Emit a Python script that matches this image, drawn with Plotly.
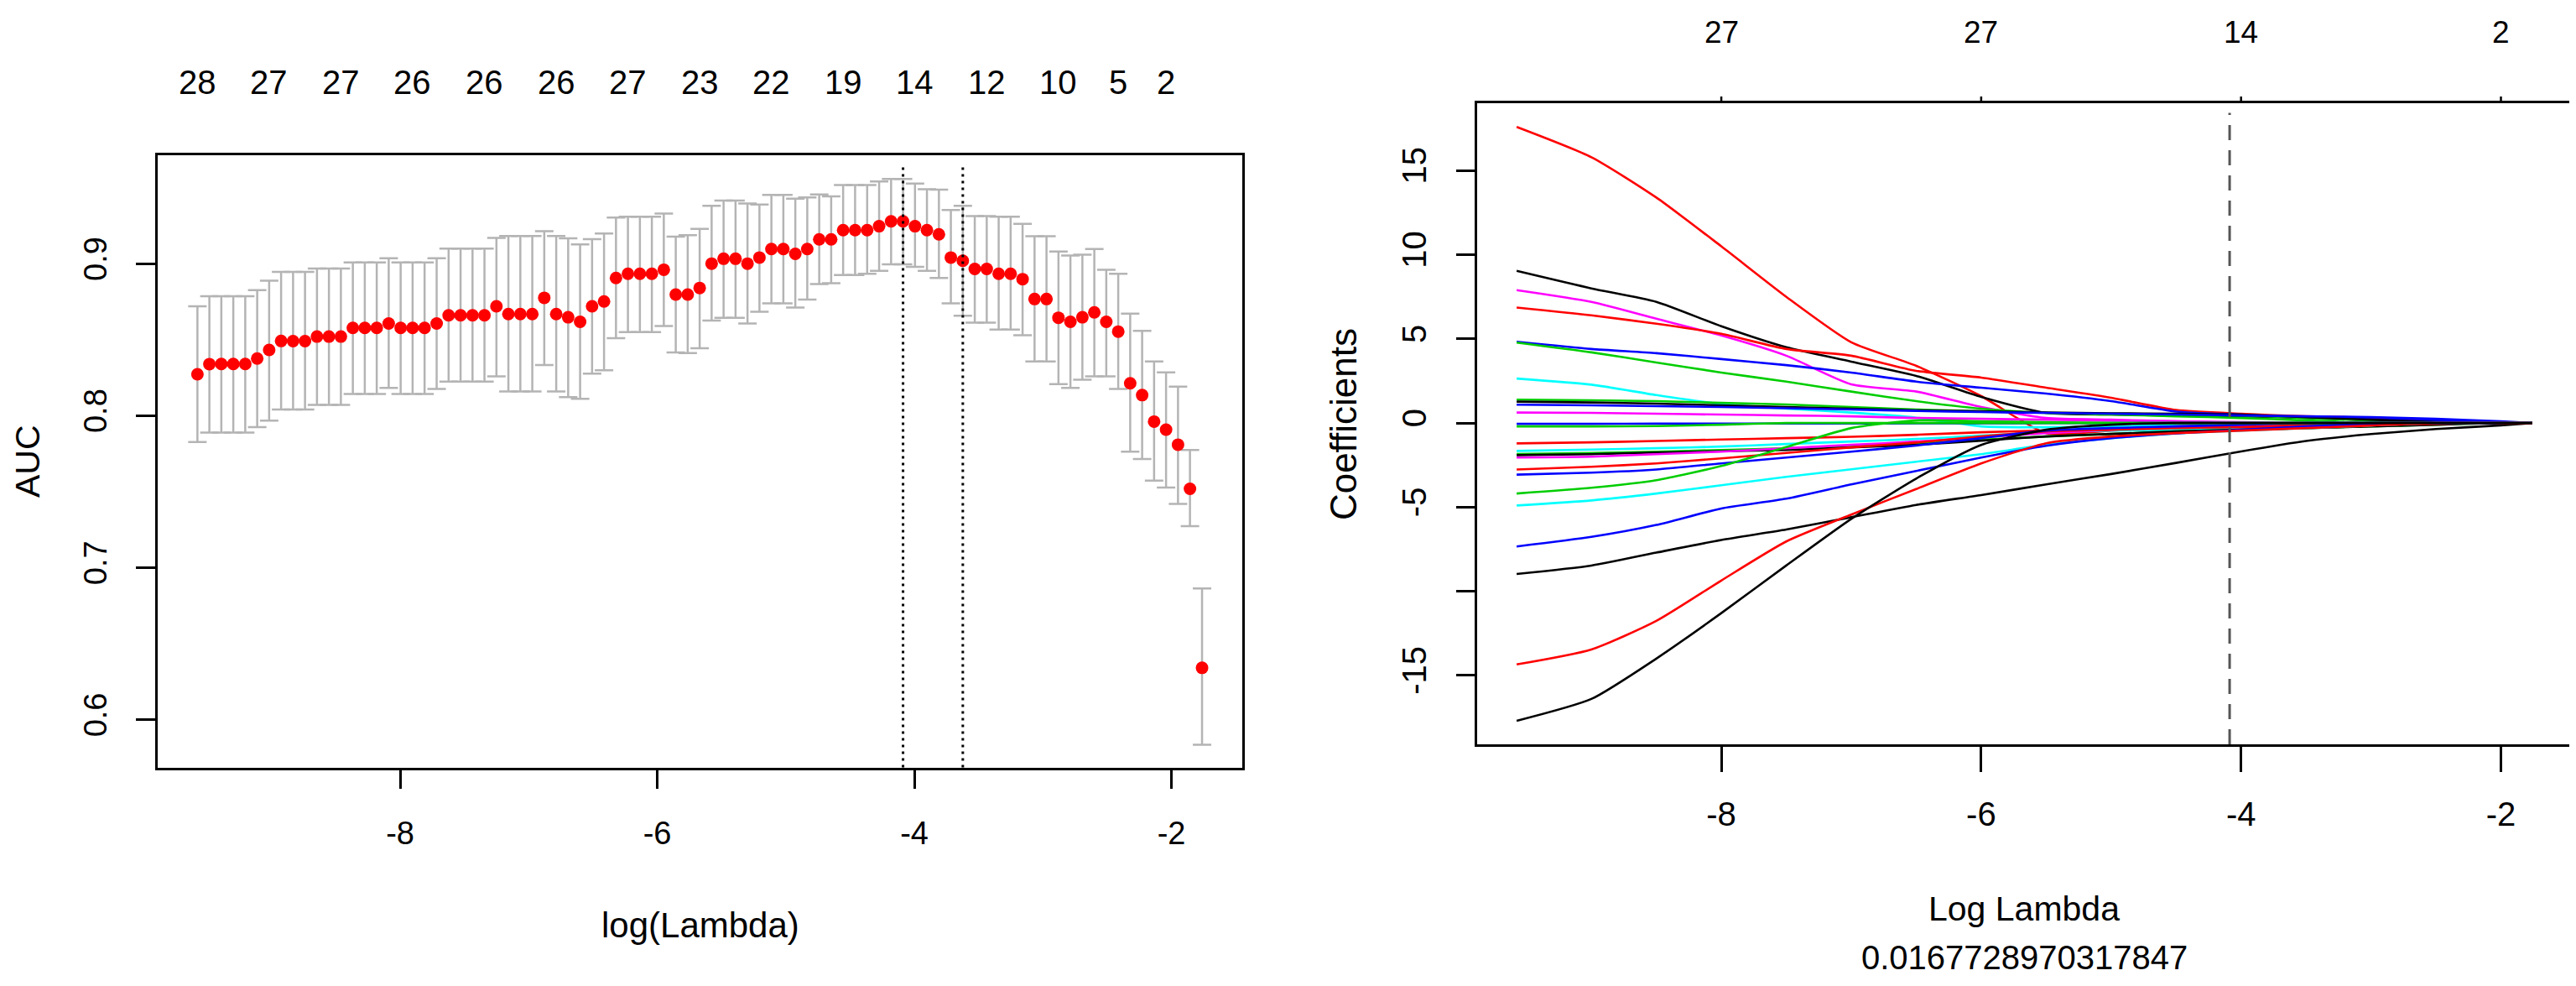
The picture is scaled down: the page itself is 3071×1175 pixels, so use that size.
import plotly.graph_objects as go

# ---------------- data: left panel (cross-validated AUC) ----------------
LOG_LAMBDA = [-9.577, -9.484, -9.391, -9.298, -9.205, -9.112, -9.019, -8.926, -8.833, -8.740,
              -8.647, -8.554, -8.461, -8.368, -8.275, -8.182, -8.089, -7.996, -7.903, -7.810,
              -7.716, -7.623, -7.530, -7.437, -7.344, -7.251, -7.158, -7.065, -6.972, -6.879,
              -6.786, -6.693, -6.600, -6.507, -6.414, -6.321, -6.228, -6.135, -6.042, -5.949,
              -5.856, -5.763, -5.670, -5.577, -5.484, -5.391, -5.298, -5.205, -5.112, -5.019,
              -4.926, -4.833, -4.740, -4.647, -4.554, -4.461, -4.367, -4.274, -4.181, -4.088,
              -3.995, -3.902, -3.809, -3.716, -3.623, -3.530, -3.437, -3.344, -3.251, -3.158,
              -3.065, -2.972, -2.879, -2.786, -2.693, -2.600, -2.507, -2.414, -2.321, -2.228,
              -2.135, -2.042, -1.949, -1.856, -1.762]

AUC_MEAN = [0.8272, 0.8339, 0.8340, 0.8340, 0.8340, 0.8376, 0.8432, 0.8491, 0.8490, 0.8490,
            0.8520, 0.8520, 0.8520, 0.8577, 0.8577, 0.8577, 0.8606, 0.8577, 0.8577, 0.8577,
            0.8606, 0.8660, 0.8660, 0.8660, 0.8660, 0.8719, 0.8668, 0.8668, 0.8668, 0.8775,
            0.8668, 0.8647, 0.8617, 0.8719, 0.8751, 0.8906, 0.8933, 0.8933, 0.8933, 0.8960,
            0.8797, 0.8797, 0.8840, 0.9000, 0.9032, 0.9032, 0.9000, 0.9040, 0.9096, 0.9096,
            0.9064, 0.9096, 0.9160, 0.9160, 0.9220, 0.9220, 0.9220, 0.9246, 0.9278, 0.9278,
            0.9246, 0.9220, 0.9193, 0.9040, 0.9019, 0.8965, 0.8965, 0.8933, 0.8933, 0.8898,
            0.8767, 0.8767, 0.8644, 0.8617, 0.8647, 0.8679, 0.8617, 0.8553, 0.8213, 0.8135,
            0.7961, 0.7908, 0.7809, 0.7519, 0.6341]

AUC_UPPER = [0.8719, 0.8786, 0.8786, 0.8786, 0.8786, 0.8826, 0.8888, 0.8946, 0.8946, 0.8946,
             0.8968, 0.8968, 0.8968, 0.9008, 0.9008, 0.9008, 0.9035, 0.9008, 0.9008, 0.9008,
             0.9035, 0.9099, 0.9099, 0.9099, 0.9099, 0.9169, 0.9182, 0.9182, 0.9182, 0.9214,
             0.9182, 0.9166, 0.9126, 0.9161, 0.9198, 0.9303, 0.9308, 0.9308, 0.9308, 0.9330,
             0.9177, 0.9187, 0.9228, 0.9380, 0.9415, 0.9415, 0.9396, 0.9388, 0.9452, 0.9452,
             0.9428, 0.9436, 0.9455, 0.9442, 0.9517, 0.9517, 0.9517, 0.9541, 0.9557, 0.9557,
             0.9527, 0.9490, 0.9487, 0.9353, 0.9380, 0.9313, 0.9313, 0.9308, 0.9308, 0.9262,
             0.9180, 0.9180, 0.9080, 0.9054, 0.9059, 0.9096, 0.8960, 0.8933, 0.8671, 0.8558,
             0.8357, 0.8285, 0.8191, 0.7774, 0.6863]

AUC_LOWER = [0.7827, 0.7889, 0.7889, 0.7889, 0.7889, 0.7924, 0.7967, 0.8041, 0.8041, 0.8041,
             0.8071, 0.8071, 0.8071, 0.8143, 0.8143, 0.8143, 0.8183, 0.8143, 0.8143, 0.8143,
             0.8175, 0.8224, 0.8224, 0.8224, 0.8224, 0.8258, 0.8159, 0.8159, 0.8159, 0.8333,
             0.8159, 0.8122, 0.8111, 0.8277, 0.8299, 0.8510, 0.8550, 0.8550, 0.8550, 0.8590,
             0.8416, 0.8411, 0.8443, 0.8625, 0.8644, 0.8644, 0.8606, 0.8684, 0.8738, 0.8738,
             0.8711, 0.8764, 0.8866, 0.8871, 0.8925, 0.8925, 0.8933, 0.8952, 0.8995, 0.8995,
             0.8979, 0.8952, 0.8906, 0.8738, 0.8657, 0.8612, 0.8612, 0.8566, 0.8566, 0.8529,
             0.8357, 0.8357, 0.8207, 0.8183, 0.8237, 0.8258, 0.8258, 0.8175, 0.7763, 0.7715,
             0.7573, 0.7527, 0.7420, 0.7273, 0.5835]

LAMBDA_MIN_LOG = -4.088
LAMBDA_1SE_LOG = -3.623

NZERO_AT = [-9.577, -9.019, -8.461, -7.903, -7.344, -6.786, -6.228, -5.670,
            -5.112, -4.554, -3.995, -3.437, -2.879, -2.414, -2.042]
NZERO_LABELS = ["28", "27", "27", "26", "26", "26", "27", "23",
                "22", "19", "14", "12", "10", "5", "2"]

AUC_TICKS = [0.6, 0.7, 0.8, 0.9]
AUC_TICK_LABELS = ["0.6", "0.7", "0.8", "0.9"]
LAMBDA_TICKS = [-8, -6, -4, -2]
LAMBDA_TICK_LABELS = ["-8", "-6", "-4", "-2"]

# ---------------- data: right panel (coefficient paths) ----------------
PATH_LOG_LAMBDA = [-9.575, -9.0, -8.5, -8.0, -7.5, -7.0, -6.5, -6.0, -5.5,
                   -5.0, -4.5, -4.0, -3.5, -3.0, -2.5, -2.0, -1.76]

COEF_A = [17.6, 15.8, 13.4, 10.5, 7.5, 4.8, 3.4, 1.6, -0.6, -0.45, -0.3, -0.2, -0.1, 0, 0, 0, 0]
COEF_B = [9.04, 8.0, 7.2, 5.75, 4.5, 3.65, 2.8, 1.55, 0.6, 0.5, 0.45, 0.4, 0.3, 0.15, 0, 0, 0]
COEF_C = [7.9, 7.2, 6.2, 5.2, 4.0, 2.3, 1.87, 0.95, 0.3, 0.2, 0.1, 0, 0, 0, 0, 0, 0]
COEF_D = [6.86, 6.4, 5.9, 5.3, 4.4, 4.0, 3.1, 2.7, 2.1, 1.5, 0.77, 0.55, 0.4, 0.32, 0.2, 0.05, 0]
COEF_E = [4.83, 4.4, 4.15, 3.8, 3.44, 3.0, 2.46, 2.1, 1.75, 1.3, 0.68, 0.5, 0.32, 0.23, 0.14, 0.05, 0]
COEF_F = [4.78, 4.2, 3.6, 3.0, 2.46, 1.87, 1.3, 0.85, 0.6, 0.5, 0.4, 0.3, 0.15, 0, 0, 0, 0]
COEF_G = [2.64, 2.28, 1.66, 1.12, 0.86, 0.62, 0.32, -0.2, -0.25, -0.2, -0.1, 0, 0, 0, 0, 0, 0]
COEF_H = [1.39, 1.35, 1.3, 1.2, 1.1, 0.95, 0.8, 0.7, 0.6, 0.55, 0.5, 0.45, 0.3, 0.15, 0, 0, 0]
COEF_I = [1.27, 1.22, 1.15, 1.05, 0.95, 0.85, 0.75, 0.7, 0.62, 0.58, 0.55, 0.5, 0.35, 0.2, 0.05, 0, 0]
COEF_J = [1.09, 1.05, 1.0, 0.95, 0.88, 0.8, 0.72, 0.65, 0.6, 0.55, 0.5, 0.45, 0.4, 0.35, 0.25, 0.1, 0]
COEF_K = [0.62, 0.6, 0.55, 0.5, 0.45, 0.4, 0.3, 0.25, 0.2, 0.15, 0.1, 0.05, 0, 0, 0, 0, 0]
COEF_L = [-0.05, -0.05, -0.04, -0.04, -0.03, -0.03, -0.02, -0.02, -0.01, 0, 0, 0, 0, 0, 0, 0, 0]
COEF_M = [-0.2, -0.2, -0.18, -0.1, 0, 0, 0, 0, 0, 0, 0, 0, 0, 0, 0, 0, 0]
COEF_N = [-1.21, -1.15, -1.07, -0.98, -0.9, -0.82, -0.7, -0.55, -0.45, -0.4, -0.35, -0.3, -0.2, -0.1, 0, 0, 0]
COEF_O = [-1.66, -1.58, -1.5, -1.4, -1.25, -1.1, -0.95, -0.75, -0.55, -0.45, -0.4, -0.35, -0.25, -0.15, -0.05, 0, 0]
COEF_P = [-1.84, -1.78, -1.7, -1.6, -1.5, -1.35, -1.2, -1.0, -0.8, -0.65, -0.5, -0.4, -0.3, -0.2, -0.1, 0, 0]
COEF_Q = [-1.91, -1.85, -1.75, -1.68, -1.6, -1.45, -1.3, -1.05, -0.8, -0.65, -0.5, -0.4, -0.3, -0.2, -0.1, 0, 0]
COEF_R = [-2.05, -2.0, -1.85, -1.7, -1.5, -1.3, -1.1, -0.85, -0.6, -0.4, -0.2, -0.1, 0, 0, 0, 0, 0]
COEF_S = [-2.76, -2.6, -2.4, -2.1, -1.78, -1.45, -1.16, -0.8, -0.5, -0.4, -0.3, -0.25, -0.2, -0.12, -0.05, 0, 0]
COEF_T = [-3.07, -2.95, -2.76, -2.4, -2.05, -1.7, -1.34, -0.9, -0.45, -0.3, -0.2, -0.1, 0, 0, 0, 0, 0]
COEF_U = [-4.19, -3.85, -3.4, -2.55, -1.43, -0.3, 0.15, 0.1, 0.05, 0, 0, 0, 0, 0, 0, 0, 0]
COEF_V = [-4.9, -4.6, -4.19, -3.7, -3.2, -2.75, -2.3, -1.85, -1.3, -0.9, -0.62, -0.45, -0.3, -0.15, 0, 0, 0]
COEF_W = [-7.34, -6.77, -6.06, -5.08, -4.5, -3.65, -2.85, -2.05, -1.35, -0.9, -0.62, -0.4, -0.2, -0.05, 0, 0, 0]
COEF_X = [-8.97, -8.47, -7.7, -6.95, -6.33, -5.6, -4.87, -4.28, -3.65, -3.03, -2.37, -1.69, -1.07, -0.66, -0.36, -0.14, 0]
COEF_Y = [-14.35, -13.46, -11.76, -9.36, -7.04, -5.44, -3.92, -2.4, -1.2, -0.8, -0.6, -0.45, -0.3, -0.15, 0, 0, 0]
COEF_Z = [-17.7, -16.4, -14.0, -11.3, -8.47, -5.7, -3.3, -1.3, -0.4, -0.1, 0, 0, 0, 0, 0, 0, 0]

COEF_TICKS = [15, 10, 5, 0, -5, -10, -15]
COEF_TICK_LABELS = ["15", "10", "5", "0", "-5", "", "-15"]
PATH_TOP_TICKS = [-8, -6, -4, -2]
PATH_TOP_LABELS = ["27", "27", "14", "2"]
SELECTED_LAMBDA_TEXT = "0.0167728970317847"

# ---------------- styles ----------------
W, H = 3071, 1175
REG = "Liberation Sans, Arial, Helvetica, sans-serif"
R_BLACK, R_RED, R_GREEN, R_BLUE, R_CYAN, R_MAGENTA = (
    "#000000", "#FF0000", "#00CD00", "#0000FF", "#00FFFF", "#FF00FF")

paths = [
    (COEF_A, R_RED), (COEF_B, R_BLACK), (COEF_C, R_MAGENTA), (COEF_D, R_RED),
    (COEF_E, R_BLUE), (COEF_F, R_GREEN), (COEF_G, R_CYAN), (COEF_H, R_GREEN),
    (COEF_I, R_BLACK), (COEF_J, R_BLUE), (COEF_K, R_MAGENTA), (COEF_L, R_BLUE),
    (COEF_M, R_GREEN), (COEF_N, R_RED), (COEF_O, R_CYAN), (COEF_P, R_GREEN),
    (COEF_Q, R_BLACK), (COEF_R, R_MAGENTA), (COEF_S, R_RED), (COEF_T, R_BLUE),
    (COEF_U, R_GREEN), (COEF_V, R_CYAN), (COEF_W, R_BLUE), (COEF_X, R_BLACK),
    (COEF_Y, R_RED), (COEF_Z, R_BLACK),
]

fig = go.Figure()

# left panel: error bars + mean points
fig.add_trace(go.Scatter(
    x=LOG_LAMBDA, y=AUC_MEAN, mode="markers",
    marker=dict(color="#FF0000", size=15, line=dict(width=0)),
    error_y=dict(type="data", symmetric=False,
                 array=[u - m for u, m in zip(AUC_UPPER, AUC_MEAN)],
                 arrayminus=[m - l for m, l in zip(AUC_MEAN, AUC_LOWER)],
                 color="#B4B4B4", thickness=2.5, width=11),
    xaxis="x", yaxis="y", showlegend=False, hoverinfo="skip"))

# right panel: coefficient paths
for vals, col in paths:
    fig.add_trace(go.Scatter(
        x=PATH_LOG_LAMBDA, y=vals, mode="lines",
        line=dict(color=col, width=2.6, shape="spline", smoothing=0.6),
        xaxis="x2", yaxis="y2", showlegend=False, hoverinfo="skip"))

# pixel box geometry (paper fractions)
L_X0, L_X1 = 180 / W, 1472.7 / W
L_Y0, L_Y1 = 1 - 906.5 / H, 1 - 177 / H
R_X0, R_X1 = 1753 / W, 3057 / W
R_Y0, R_Y1 = 1 - 879 / H, 1 - 115 / H

axis_common = dict(showgrid=False, zeroline=False, showline=True, linecolor="black",
                   linewidth=2.5, mirror=True, ticks="outside", tickcolor="black",
                   tickwidth=2.5, color="black")

fig.update_layout(
    width=W, height=H, autosize=False,
    margin=dict(l=0, r=0, t=0, b=0),
    paper_bgcolor="white", plot_bgcolor="white",
    xaxis=dict(domain=[L_X0, L_X1], range=[-9.886, -1.451], anchor="y",
               tickvals=LAMBDA_TICKS, ticktext=LAMBDA_TICK_LABELS, ticklen=23,
               tickfont=dict(family=REG, size=38, color="black"),
               ticklabelstandoff=20, **axis_common),
    yaxis=dict(domain=[L_Y0, L_Y1], range=[0.5686, 0.9713], anchor="x",
               tickvals=AUC_TICKS, ticktext=AUC_TICK_LABELS, ticklen=23, tickangle=-90,
               tickfont=dict(family=REG, size=38, color="black"),
               ticklabelstandoff=20, **axis_common),
    xaxis2=dict(domain=[R_X0, R_X1], range=[-9.879, -1.461], anchor="y2",
                tickvals=LAMBDA_TICKS, ticktext=LAMBDA_TICK_LABELS, ticklen=30,
                tickfont=dict(family=REG, size=40, color="black"),
                ticklabelstandoff=16, **axis_common),
    yaxis2=dict(domain=[R_Y0, R_Y1], range=[-19.097, 19.007], anchor="x2",
                tickvals=COEF_TICKS, ticktext=COEF_TICK_LABELS, ticklen=22, tickangle=-90,
                tickfont=dict(family=REG, size=40, color="black"),
                ticklabelstandoff=20, **axis_common),
)

shapes = [
    dict(type="line", xref="x", yref="y domain", x0=LAMBDA_MIN_LOG, x1=LAMBDA_MIN_LOG,
         y0=0, y1=0.985, line=dict(color="black", width=3, dash="3px,5px")),
    dict(type="line", xref="x", yref="y domain", x0=LAMBDA_1SE_LOG, x1=LAMBDA_1SE_LOG,
         y0=0, y1=0.985, line=dict(color="black", width=3, dash="3px,5px")),
    dict(type="line", xref="x2", yref="y2 domain", x0=LAMBDA_MIN_LOG, x1=LAMBDA_MIN_LOG,
         y0=0, y1=0.985, line=dict(color="#555555", width=3, dash="18px,12px")),
]
for t in PATH_TOP_TICKS:
    shapes.append(dict(type="line", xref="x2", yref="paper", x0=t, x1=t,
                       y0=R_Y1, y1=R_Y1 + 8 / H, line=dict(color="black", width=2.5)))
fig.update_layout(shapes=shapes)

ann = []
for pos, lab in zip(NZERO_AT, NZERO_LABELS):
    ann.append(dict(x=pos, xref="x", y=1 - 90 / H, yref="paper", text=lab,
                    showarrow=False, xanchor="center", yanchor="middle",
                    font=dict(family=REG, size=40, color="black")))
for pos, lab in zip(PATH_TOP_TICKS, PATH_TOP_LABELS):
    ann.append(dict(x=pos, xref="x2", y=1 - 31 / H, yref="paper", text=lab,
                    showarrow=False, xanchor="center", yanchor="middle",
                    font=dict(family=REG, size=37, color="black")))
ann += [
    dict(x=25 / W, y=1 - 542 / H, xref="paper", yref="paper", text="AUC", textangle=-90,
         showarrow=False, xanchor="center", yanchor="middle",
         font=dict(family=REG, size=41, color="black")),
    dict(x=826.7 / W, y=1 - 1094 / H, xref="paper", yref="paper", text="log(Lambda)",
         showarrow=False, xanchor="center", yanchor="middle",
         font=dict(family=REG, size=42, color="black")),
    dict(x=1593.6 / W, y=1 - 497.5 / H, xref="paper", yref="paper", text="Coefficients",
         textangle=-90, showarrow=False, xanchor="center", yanchor="middle",
         font=dict(family=REG, size=44, color="black")),
    dict(x=2405 / W, y=1 - 1075 / H, xref="paper", yref="paper", text="Log Lambda",
         showarrow=False, xanchor="center", yanchor="middle",
         font=dict(family=REG, size=41, color="black")),
    dict(x=2405 / W, y=1 - 1133 / H, xref="paper", yref="paper", text=SELECTED_LAMBDA_TEXT,
         showarrow=False, xanchor="center", yanchor="middle",
         font=dict(family=REG, size=40, color="black")),
]
fig.update_layout(annotations=ann)

fig.write_html("out.html")
